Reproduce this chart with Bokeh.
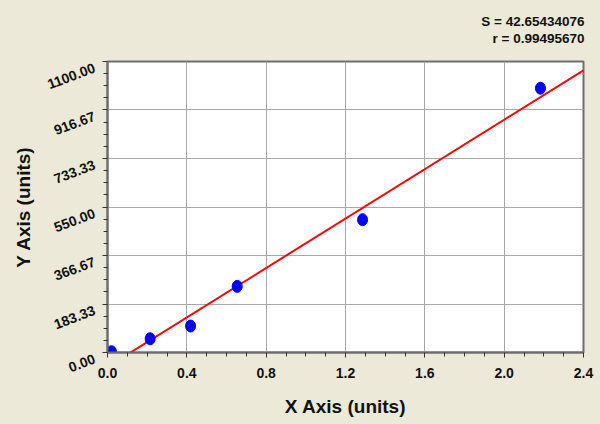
import numpy as np
from bokeh.plotting import figure
from bokeh.models import (Range1d, FixedTicker, PrintfTickFormatter, CustomJSTickFormatter,
                          Title, ColumnDataSource)
from bokeh.embed import file_html
from bokeh.resources import INLINE

# ---- data ----
x_vals = [0.02, 0.215, 0.419, 0.654, 1.286, 2.183]
y_vals = [3, 52, 100, 250, 502, 999]
x_ticks = [0.0, 0.4, 0.8, 1.2, 1.6, 2.0, 2.4]
y_ticks = [0.0, 183.33, 366.67, 550.0, 733.33, 916.67, 1100.0]
stat_lines = ["S = 42.65434076", "r = 0.99495670"]
x_label = "X Axis (units)"
y_label = "Y Axis (units)"

BG = "#ECE9D8"
FONT = "Liberation Sans"

p = figure(width=600, height=424, output_backend="svg", toolbar_location=None,
           x_range=Range1d(0, 2.4), y_range=Range1d(0, 1100), title=None,
           min_border_left=107, min_border_right=17, min_border_top=61, min_border_bottom=72)
p.background_fill_color = "white"
p.border_fill_color = BG
p.outline_line_color = "#6E6E6E"
p.outline_line_width = 2

# minor ticks: quarters between majors
x_minor = [x_ticks[i] + (x_ticks[i + 1] - x_ticks[i]) * k / 4 for i in range(len(x_ticks) - 1) for k in (1, 2, 3)]
y_minor = [y_ticks[i] + (y_ticks[i + 1] - y_ticks[i]) * k / 4 for i in range(len(y_ticks) - 1) for k in (1, 2, 3)]
p.xaxis.ticker = FixedTicker(ticks=x_ticks, minor_ticks=x_minor)
p.yaxis.ticker = FixedTicker(ticks=y_ticks, minor_ticks=y_minor)
p.xaxis.formatter = PrintfTickFormatter(format="%.1f")
p.yaxis.formatter = CustomJSTickFormatter(code='return "\\n" + tick.toFixed(2);')

for ax in (p.xaxis, p.yaxis):
    ax.axis_line_color = "#6E6E6E"
    ax.axis_line_width = 2
    ax.major_tick_line_color = "#333333"
    ax.minor_tick_line_color = "#333333"
    ax.major_tick_in = 0
    ax.major_tick_out = 5
    ax.minor_tick_in = 0
    ax.minor_tick_out = 4
    ax.major_label_text_font = FONT
    ax.major_label_text_font_style = "bold"
    ax.major_label_text_font_size = "14px"
    ax.major_label_text_color = "#111111"
    ax.axis_label_text_font = FONT
    ax.axis_label_text_font_style = "bold"
    ax.axis_label_text_font_size = "19px"
    ax.axis_label_text_color = "#111111"

p.xaxis.axis_label = x_label
p.yaxis.axis_label = y_label
p.xaxis.major_label_standoff = 10
p.xaxis.axis_label_standoff = 15
p.yaxis.major_label_orientation = 0.36
p.yaxis.major_label_text_line_height = 0.75
p.yaxis.major_label_standoff = 10
p.yaxis.axis_label_standoff = -1

p.xgrid.ticker = FixedTicker(ticks=x_ticks)
p.ygrid.ticker = FixedTicker(ticks=y_ticks)
p.xgrid.grid_line_color = "#A8A8A8"
p.ygrid.grid_line_color = "#A8A8A8"

# regression line
slope, intercept = np.polyfit(x_vals, y_vals, 1)
lx = [x_ticks[0], x_ticks[-1]]
ly = [slope * v + intercept for v in lx]
p.line(lx, ly, line_color="#FF0000", line_width=2)

src = ColumnDataSource(dict(x=x_vals, y=y_vals))
p.ellipse(x="x", y="y", width=10, height=12, width_units="screen", height_units="screen",
          source=src, fill_color="#0000FF", line_color="#0000FF")

# statistics, right-aligned above the frame (stacked from the frame outward)
p.add_layout(Title(text=".", text_color=BG, text_font_size="8px", standoff=9), "above")
for s in reversed(stat_lines):
    p.add_layout(Title(text=s, align="right", standoff=0, offset=-1,
                       text_font=FONT, text_font_style="bold", text_font_size="13.5px",
                       text_line_height=0.9, text_color="#111111"), "above")

html = file_html(p, INLINE)
html = html.replace("<html", '<html style="background-color:%s;"' % BG, 1)
html = html.replace("<body>", '<body style="background-color:%s;">' % BG, 1)
open("out.html", "w").write(html)
